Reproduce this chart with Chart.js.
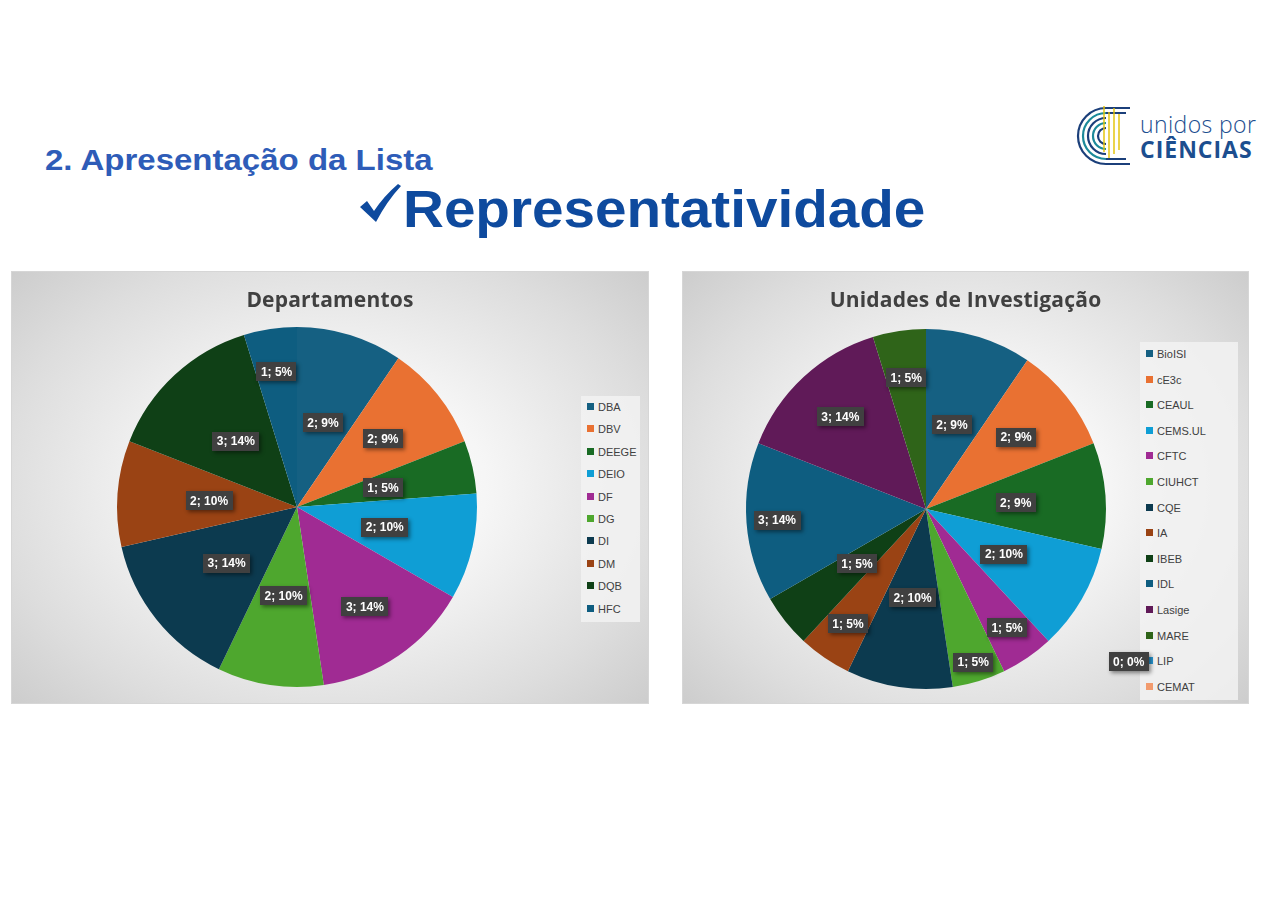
<!DOCTYPE html>
<html lang="pt">
<head>
<meta charset="utf-8">
<title>Representatividade</title>
<script src="https://cdn.jsdelivr.net/npm/chart.js@4.4.1/dist/chart.umd.min.js"></script>
<style>
  html, body { margin: 0; padding: 0; background: #fff; }
  body { width: 1280px; height: 905px; position: relative; overflow: hidden; font-family: "Liberation Sans", Arial, sans-serif; }
  .section { position: absolute; left: 45px; top: 143px; font-size: 30px; font-weight: bold; color: #2E5CB8;
             transform: scaleX(1.1); transform-origin: left top; white-space: nowrap; }
  .heading { position: absolute; left: 403px; top: 180px; font-size: 51px; font-weight: bold; color: #0E4A9E;
             white-space: nowrap; transform: scaleX(1.11); transform-origin: left top; }
  .check { position: absolute; left: 360px; top: 184px; }
  .logo { position: absolute; left: 1066px; top: 102px; width: 200px; height: 66px; }
  .logo .l1 { position: absolute; left: 74px; top: 6px; font-size: 23px; color: #1C4E8F; font-family: "Open Sans", sans-serif; font-weight: 300; letter-spacing: 0.4px; }
  .logo .l2 { position: absolute; left: 74px; top: 31px; font-size: 23px; color: #1C4E8F; font-family: "Open Sans", sans-serif; font-weight: bold; letter-spacing: 1px; }
  .panel { position: absolute; top: 272px; height: 431px; box-shadow: 0 0 0 1px #d6d6d6;
           background: radial-gradient(ellipse 70% 75% at 50% 50%, #ffffff 0%, #f6f6f6 35%, #dddddd 75%, #cbcbcb 100%); }
  .panel canvas { position: absolute; left: 0; top: 0; z-index: 2; }
  .ptitle { position: absolute; left: 0; right: 0; top: 13px; text-align: center; font-size: 21px; font-weight: bold; color: #404040;
            font-family: "Open Sans", sans-serif; letter-spacing: 0.2px; z-index: 3; }
  .legend { position: absolute; background: rgba(242,242,242,0.85); z-index: 1; }
  .legend div { position: absolute; left: 6px; font-size: 11px; color: #404040; white-space: nowrap; line-height: 12px; }
  .legend span { display: inline-block; width: 7px; height: 7px; margin-right: 4px; vertical-align: 1px; }
</style>
</head>
<body>
<div class="section">2. Apresentação da Lista</div>
<svg class="check" width="42" height="40" viewBox="0 0 42 40">
  <path d="M0 23 L7 17 L14 27 Q24 12 38 0 L41 2 Q27 17 16 38 Z" fill="#0E4A9E"/>
</svg>
<div class="heading">Representatividade</div>

<div class="logo">
  <svg width="70" height="66" viewBox="0 0 70 66">
    <g fill="none" stroke-width="2.2">
      <path d="M40 6 A28 28 0 0 0 40 62" stroke="#1B3F7A"/>
      <path d="M40 11 A23 23 0 0 0 40 57" stroke="#1C8A9A"/>
      <path d="M40 16 A18 18 0 0 0 40 52" stroke="#1B3F7A"/>
      <path d="M40 21 A13 13 0 0 0 40 47" stroke="#1C8A9A"/>
      <path d="M40 26 A8 8 0 0 0 40 42" stroke="#1B3F7A"/>
      <path d="M40 6 H64 M40 62 H64 M40 11 H60 M40 57 H60" stroke="#1B3F7A"/>
    </g>
    <g stroke="#E2C200" stroke-width="1.4">
      <line x1="38" y1="4" x2="38" y2="50"/>
      <line x1="43" y1="10" x2="43" y2="56"/>
      <line x1="48" y1="6" x2="48" y2="52"/>
      <line x1="53" y1="12" x2="53" y2="48"/>
    </g>
  </svg>
  <div class="l1">unidos por</div>
  <div class="l2">CIÊNCIAS</div>
</div>

<div class="panel" style="left:12px; width:636px;">
  <div class="legend" id="deptLegend" style="left:569px; top:124px; width:59px; height:226px;"></div>
  <canvas id="deptChart"></canvas>
  <div class="ptitle">Departamentos</div>
</div>

<div class="panel" style="left:683px; width:565px;">
  <div class="legend" id="unitLegend" style="left:457px; top:70px; width:98px; height:358px;"></div>
  <canvas id="unitChart"></canvas>
  <div class="ptitle">Unidades de Investigação</div>
</div>

<script>
// Departamentos
const deptLabels = ['DBA', 'DBV', 'DEEGE', 'DEIO', 'DF', 'DG', 'DI', 'DM', 'DQB', 'HFC'];
const deptValues = [2, 2, 1, 2, 3, 2, 3, 2, 3, 1];
const deptPct = [9, 9, 5, 10, 14, 10, 14, 10, 14, 5];

// Unidades de Investigação
const unitLabels = ['BioISI', 'cE3c', 'CEAUL', 'CEMS.UL', 'CFTC', 'CIUHCT', 'CQE', 'IA', 'IBEB', 'IDL', 'Lasige', 'MARE', 'LIP', 'CEMAT'];
const unitValues = [2, 2, 2, 2, 1, 1, 2, 1, 1, 3, 3, 1, 0, 0];
const unitPct = [9, 9, 9, 10, 5, 5, 10, 5, 5, 14, 14, 5, 0, 0];

// colours (Office theme)
const deptColors = ['#156082', '#E97132', '#196B24', '#0F9ED5', '#A02B93', '#4EA72E', '#0C3A4F', '#9A4314', '#0F4016', '#0E5D80'];
const unitColors = ['#156082', '#E97132', '#196B24', '#0F9ED5', '#A02B93', '#4EA72E', '#0C3A4F', '#9A4314', '#0F4016', '#0E5D80', '#601A58', '#2F6419', '#2898D4', '#F29B6E'];

// where each label sits, as a fraction of the radius (Excel "best fit" look)
const deptLabelRadius = [0.49, 0.61, 0.49, 0.5, 0.67, 0.5, 0.5, 0.49, 0.5, 0.76];
const unitLabelRadius = [0.49, 0.64, 0.5, 0.5, 0.8, 0.89, 0.5, 0.77, 0.49, 0.83, 0.7, 0.74, null, null];

// Data label boxes drawn on top of the slices
const pieLabelPlugin = {
    id: 'pieLabels',
    afterDatasetsDraw(chart, args, opts) {
        const ctx = chart.ctx;
        const meta = chart.getDatasetMeta(0);
        const values = chart.data.datasets[0].data;
        ctx.save();
        ctx.font = 'bold 12px "Liberation Sans", Arial, sans-serif';
        ctx.textAlign = 'center';
        ctx.textBaseline = 'middle';
        meta.data.forEach((arc, i) => {
            const p = arc.getProps(['x', 'y', 'startAngle', 'endAngle', 'outerRadius'], true);
            let angle = (p.startAngle + p.endAngle) / 2;
            let frac = opts.radius[i];
            if (values[i] === 0) {
                // zero slices: only the one Excel moved out to the side
                const extra = opts.zero && opts.zero[i];
                if (!extra) return;
                angle = extra.angle * Math.PI / 180 - Math.PI / 2;
                frac = extra.radius;
            }
            const x = p.x + Math.cos(angle) * p.outerRadius * frac;
            const y = p.y + Math.sin(angle) * p.outerRadius * frac;
            const text = values[i] + '; ' + opts.pct[i] + '%';
            const w = ctx.measureText(text).width + 9;
            const h = 19;
            ctx.shadowColor = 'rgba(0,0,0,0.45)';
            ctx.shadowBlur = 4;
            ctx.shadowOffsetX = 2;
            ctx.shadowOffsetY = 2;
            ctx.fillStyle = '#404040';
            ctx.fillRect(Math.round(x - w / 2), Math.round(y - h / 2), Math.round(w), h);
            ctx.shadowColor = 'transparent';
            ctx.fillStyle = '#ffffff';
            ctx.fillText(text, x, y + 1);
        });
        ctx.restore();
    }
};

function buildLegend(el, labels, colors, step, top) {
    labels.forEach((name, i) => {
        const row = document.createElement('div');
        row.style.top = (top + i * step) + 'px';
        row.innerHTML = '<span style="background:' + colors[i] + '"></span>' + name;
        el.appendChild(row);
    });
}

function makePie(canvasId, labels, values, colors, pct, radius, padding, zero) {
    const ctx = document.getElementById(canvasId);
    return new Chart(ctx, {
        type: 'pie',
        data: {
            labels: labels,
            datasets: [{
                data: values,
                backgroundColor: colors,
                borderWidth: 0
            }]
        },
        options: {
            responsive: true,
            maintainAspectRatio: false,
            animation: false,
            layout: { padding: padding },
            plugins: {
                legend: { display: false },
                tooltip: { enabled: false },
                pieLabels: { pct: pct, radius: radius, zero: zero }
            }
        },
        plugins: [pieLabelPlugin]
    });
}

document.addEventListener('DOMContentLoaded', () => {
    buildLegend(document.getElementById('deptLegend'), deptLabels, deptColors, 22.4, 5);
    buildLegend(document.getElementById('unitLegend'), unitLabels, unitColors, 25.6, 6);

    makePie('deptChart', deptLabels, deptValues, deptColors, deptPct, deptLabelRadius,
        { left: 105, right: 171, top: 55, bottom: 16 });
    makePie('unitChart', unitLabels, unitValues, unitColors, unitPct, unitLabelRadius,
        { left: 63, right: 142, top: 57, bottom: 14 },
        { 12: { angle: 127, radius: 1.41 } });
});
</script>
</body>
</html>
